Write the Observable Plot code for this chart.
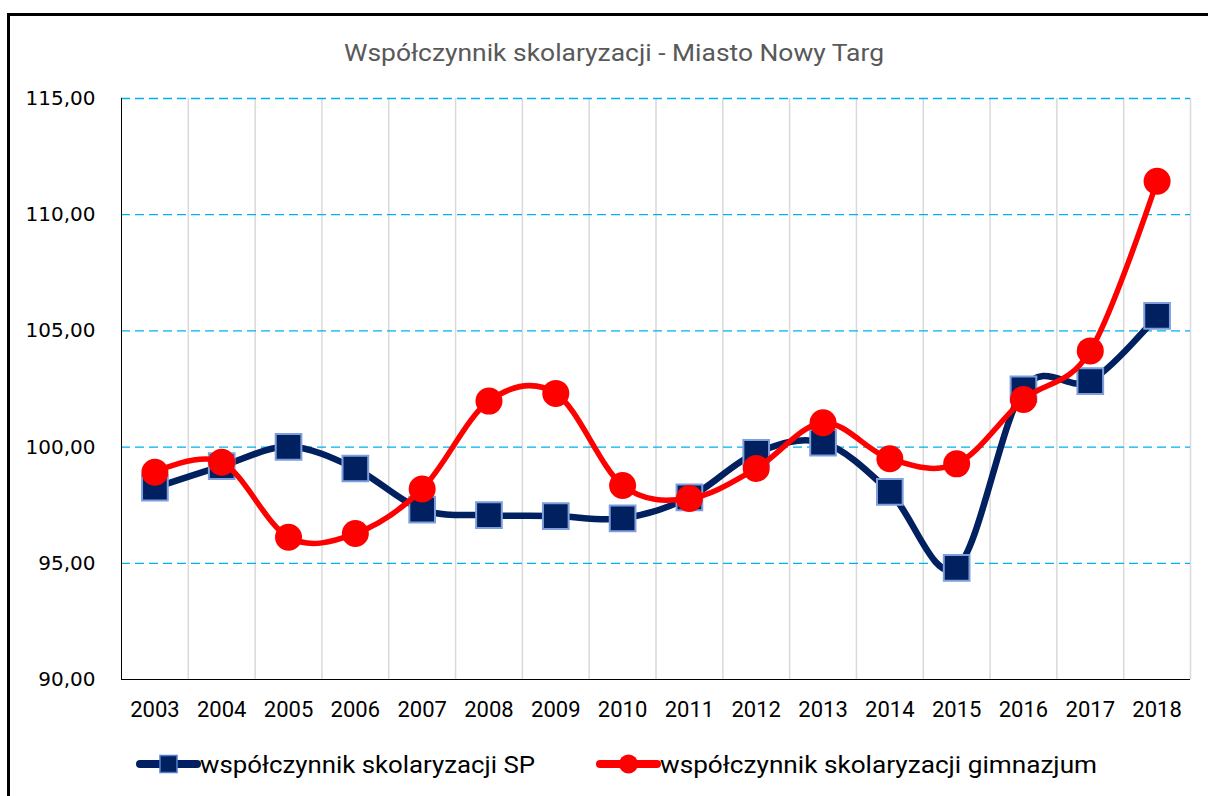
<!DOCTYPE html>
<html>
<head>
<meta charset="utf-8">
<script src="https://cdn.jsdelivr.net/npm/d3@7"></script>
<script src="https://cdn.jsdelivr.net/npm/@observablehq/plot@0.6"></script>
<style>
  html, body { margin: 0; padding: 0; background: #fff; }
  #wrap { position: relative; width: 1208px; height: 796px; overflow: hidden; background: #fff; }
  #frameTop { position: absolute; left: 7px; top: 13px; width: 1201px; height: 3px; background: #000; }
  #frameLeft { position: absolute; left: 7px; top: 13px; width: 3px; height: 783px; background: #000; }
  svg { display: block; }
</style>
</head>
<body>
<div id="wrap">
  <svg id="title" width="1208" height="80">
    <text x="614" y="61" text-anchor="middle" textLength="540" lengthAdjust="spacingAndGlyphs"
      font-family="Roboto" font-size="23" fill="#595959">Współczynnik skolaryzacji - Miasto Nowy Targ</text>
  </svg>
  <div id="chart"></div>
  <svg id="legend" width="1208" height="56"></svg>
  <div id="frameTop"></div>
  <div id="frameLeft"></div>
</div>
<script>
// ---- data ----
const years = [2003, 2004, 2005, 2006, 2007, 2008, 2009, 2010, 2011, 2012, 2013, 2014, 2015, 2016, 2017, 2018];
const spValues = [98.25, 99.18, 100.01, 99.08, 97.31, 97.07, 97.03, 96.93, 97.84, 99.75, 100.19, 98.07, 94.80, 102.49, 102.84, 105.65];
const gimValues = [98.92, 99.35, 96.12, 96.28, 98.20, 101.98, 102.31, 98.35, 97.79, 99.08, 101.05, 99.50, 99.28, 102.05, 104.14, 111.44];
const yTicks = [90, 95, 100, 105, 110, 115];
const seriesNames = ["współczynnik skolaryzacji SP", "współczynnik skolaryzacji gimnazjum"];
const titleText = "Współczynnik skolaryzacji - Miasto Nowy Targ";

const rows = years.map((year, i) => ({year, sp: spValues[i], gim: gimValues[i]}));
const boundaries = years.map(y => y + 0.5);
const gridValues = yTicks.filter(v => v > yTicks[0]);
const fmt = d => d.toFixed(2).replace(".", ",");

const chart = Plot.plot({
  width: 1208,
  height: 660,
  marginTop: 18,
  marginBottom: 61,
  marginLeft: 121,
  marginRight: 18,
  style: {background: "transparent", overflow: "visible"},
  x: {type: "linear", domain: [years[0] - 0.5, years[years.length - 1] + 0.5]},
  y: {domain: [yTicks[0], yTicks[yTicks.length - 1]]},
  marks: [
    Plot.ruleX(boundaries, {stroke: "#d9d9d9", strokeWidth: 1.5}),
    Plot.ruleY(gridValues, {stroke: "#00b0f0", strokeWidth: 1.3, strokeDasharray: "9,5"}),
    Plot.ruleX([years[0] - 0.5], {stroke: "#000", strokeWidth: 1}),
    Plot.ruleY([yTicks[0]], {stroke: "#000", strokeWidth: 1}),
    Plot.axisY({ticks: yTicks, tickFormat: fmt, tickSize: 0, tickPadding: 26, label: null,
      fontSize: 20, fontFamily: "DejaVu Sans", fill: "#000"}),
    Plot.axisX({ticks: years, tickFormat: d => String(d), tickSize: 0, tickPadding: 22, label: null,
      fontSize: 22, fontFamily: "Roboto", fill: "#000"}),
    Plot.line(rows, {x: "year", y: "sp", stroke: "#002060", strokeWidth: 6.5, curve: "cardinal"}),
    Plot.dot(rows, {x: "year", y: "sp", symbol: "square", r: 14.5, fill: "#002060", stroke: "#7f9fdc", strokeWidth: 2}),
    Plot.line(rows, {x: "year", y: "gim", stroke: "#ff0000", strokeWidth: 5.5, curve: "cardinal"}),
    Plot.dot(rows, {x: "year", y: "gim", r: 13.5, fill: "#ff0000", stroke: "none"})
  ]
});
document.getElementById("chart").appendChild(chart);

// ---- legend ----
const lg = d3.select("#legend");
const items = [
  {name: seriesNames[0], color: "#002060", x0: 140, x1: 197, tx: 200, tl: 335, kind: "square"},
  {name: seriesNames[1], color: "#ff0000", x0: 600, x1: 657, tx: 660, tl: 437, kind: "circle"}
];
items.forEach(it => {
  lg.append("line").attr("x1", it.x0).attr("x2", it.x1).attr("y1", 24).attr("y2", 24)
    .attr("stroke", it.color).attr("stroke-width", 8).attr("stroke-linecap", "round");
  const cx = (it.x0 + it.x1) / 2;
  if (it.kind === "square") {
    lg.append("rect").attr("x", cx - 8.5).attr("y", 24 - 8.5).attr("width", 17).attr("height", 17)
      .attr("fill", it.color).attr("stroke", "#4f7fd0").attr("stroke-width", 1.5);
  } else {
    lg.append("circle").attr("cx", cx).attr("cy", 24).attr("r", 9.5).attr("fill", it.color);
  }
  lg.append("text").attr("x", it.tx).attr("y", 33).attr("font-family", "Roboto").attr("font-size", 24)
    .attr("fill", "#000").attr("textLength", it.tl).attr("lengthAdjust", "spacingAndGlyphs").text(it.name);
});
</script>
</body>
</html>
